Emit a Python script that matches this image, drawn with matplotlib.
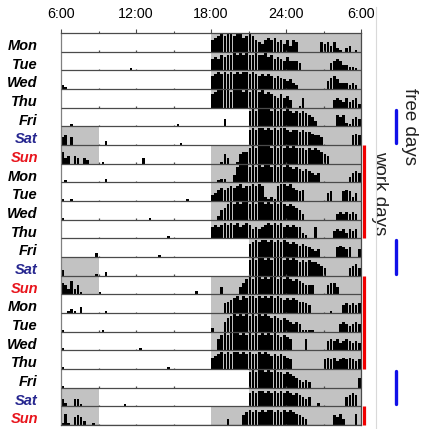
import numpy as np
import matplotlib
matplotlib.use("Agg")
import matplotlib.pyplot as plt
from matplotlib.transforms import blended_transform_factory
from matplotlib.lines import Line2D

plt.rcParams['font.family'] = ['Liberation Sans', 'DejaVu Sans']

days = ["Mon", "Tue", "Wed", "Thu", "Fri", "Sat", "Sun"] * 3
label_colors = {"Sat": "#26268f", "Sun": "#e8141c"}

# lights-off intervals per weekday, hours on a 6..30 axis
dark = {
    "Mon": [(18, 30)], "Tue": [(18, 30)], "Wed": [(18, 30)], "Thu": [(18, 30)],
    "Fri": [(21, 30)],
    "Sat": [(6, 9), (21, 30)],
    "Sun": [(6, 9), (18, 30)],
}

# activity counts in 15 min bins, digits 0-9 (relative height)
# first half: 6:00-18:00, second half: 18:00-6:00
day_act = [
    "00000000 00000000 00000000 00000000 00000000 00000000",
    "00000000 00000000 00000010 00000000 00000000 00000000",
    "21000000 00000000 00000000 00000000 00000000 00000000",
    "00000000 00000000 00000000 00000000 00000000 00000000",
    "00010000 00000000 00000000 00000000 00000100 00000000",
    "45040000 00000020 00000000 00000000 00000010 00000000",
    "63404303 20000100 00000000 00300000 00000000 00000000",
    "01000000 00000020 00000000 00000000 00000000 00000000",
    "10010000 00000000 00000000 00000000 00000000 10000000",
    "10000000 00000000 00000000 00001000 00000000 00000000",
    "00000000 00000000 00000000 00000000 00100000 00000000",
    "00000000 00020000 00000000 00000001 00000000 00000000",
    "30000000 00010020 00000000 00000000 00000000 00000000",
    "65373510 00001000 00000000 00000000 00000000 00020000",
    "00121030 00000010 00000000 00000000 00000000 00000000",
    "10000000 00000100 00000000 00000000 00000000 00000000",
    "10000000 00000000 00000000 01000000 00000000 00000000",
    "10000000 00000000 00000000 00000000 00100000 00000000",
    "10000000 00000000 00000000 00000000 00000000 00000000",
    "42004410 00000000 00001000 00000000 00000000 00000000",
    "16104542 00100000 00000000 00000000 00000000 00000000",
]
night_act = [
    "67 8989 989978 98654 6767564 6365 0000000 5453521 023010",
    "676878 898989889 889786 76575 5540 00000000 45653 32210",
    "789898 98989989 87878767 6545 320 00000000 4675 3332320",
    "789999 89998989 98978765 7564 00 1 5 000000000 454353452",
    "0000 4 0 000000 8989999898 98987878765 3 000000 656 21 454",
    "000000000000 89899898989 9878878776554 000000000 565",
    "000 153 001 566 8989999898 989898887878 7654 0000000000",
    "00 1220 04 8999898989 9898989878 7676545 000000000 3565",
    "346 767 878978 89898 2121 89989 7656 0000000 45 000 565 240",
    "002 56898989 9898998989 89878765 3 0000000000 34343430",
    "67678 7878 6787 5656 787878 676766 320 06 00000 45453545 0",
    "000000000000 7898998989 898787676 5434 00000 56545 00 4",
    "000000000000 89899898999 89898787877654 0000000 4564",
    "000 4 00000 46 8989989899 898987876555 0000 5664 0000000",
    "0000 567 8979899898 9898987878 76654 000000 1 000 454545",
    "2 000 578 9898989898 98787676 5454 1111 00000000 4543454",
    "00 6898999898 9898989898 7876 0000 6 000000 56564565454",
    "6789898998 9898898987 878765 0000000000 565645656545",
    "000000000000 8989989898 8787654 343 000000000000000 5",
    "000000000000 7878878787 8787676545 00 2 00000000 5676 0",
    "000003 0000 5787878788 7878787654 3 00000000 5463 000 60",
]

work_rows = [(6, 10), (13, 17), (20, 20)]
free_rows = [(4, 5), (11, 12), (18, 19)]

tick_pos = [6, 12, 18, 24, 30]
tick_labels = ["6:00", "12:00", "18:00", "24:00", "6:00"]
mark_hours = [9, 12, 15, 21, 24, 27]

n = len(days)
fig = plt.figure(figsize=(4.23, 4.29), dpi=100)
ax = fig.add_axes([61 / 423, 4 / 429, 300 / 423, 392 / 429])
ax.set_xlim(6, 30)
ax.set_ylim(0, n)

line_col = "#4a4a4a"
lbl_trans = blended_transform_factory(ax.transAxes, ax.transData)

for i, d in enumerate(days):
    y0 = n - 1 - i
    for a, b in dark[d]:
        ax.barh(y0, b - a, left=a, height=1, align='edge', color='#c2c2c2', lw=0, zorder=1)
    s = (day_act[i] + night_act[i]).replace(" ", "")
    assert len(s) == 96, (i, len(s))
    h = np.array([int(c) for c in s]) / 9 * 0.92
    x = 6 + 0.25 * np.arange(96)
    m = h > 0
    ax.bar(x[m], h[m], width=0.21, bottom=y0, align='edge', color='black', lw=0, zorder=2)
    ax.text(-0.077, y0 + 0.3, d, transform=lbl_trans, ha='right', va='center',
            fontsize=10.5, fontweight='bold', fontstyle='italic',
            color=label_colors.get(d, 'black'))

ax.hlines(np.arange(n), 6, 30, color=line_col, lw=0.9, zorder=3)
# small hour marks on each baseline
mx, my = np.meshgrid(mark_hours, np.arange(n))
ax.vlines(mx.ravel(), my.ravel(), my.ravel() + 0.07, color=line_col, lw=0.9, zorder=3)

ax.xaxis.tick_top()
ax.set_xticks(tick_pos, tick_labels)
ax.set_xticks([9, 15, 21, 27], minor=True)
ax.tick_params(axis='x', which='major', length=3, width=0.8, color=line_col, pad=5.5, labelsize=10.3)
ax.tick_params(axis='x', which='minor', length=1.5, width=0.8, color=line_col)
ax.set_yticks([])
for sp in ax.spines.values():
    sp.set_color(line_col)
    sp.set_linewidth(0.9)
ax.spines['left'].set_color('#808080')

for a, b in work_rows:
    ax.plot([30.24, 30.24], [n - 1 - b, n - a], color='#f00000', lw=2.3,
            solid_capstyle='butt', clip_on=False)
for a, b in free_rows:
    ax.plot([32.8, 32.8], [n - 1 - b + 0.1, n - a - 0.1], color='#1010e8', lw=2.4,
            solid_capstyle='round', clip_on=False)

ax.text(31.52, 12.43, "work days", rotation=270, ha='center', va='center',
        fontsize=13.5, color='#222222', clip_on=False)
ax.text(33.84, 15.97, "free days", rotation=270, ha='center', va='center',
        fontsize=13.5, color='#222222', clip_on=False)

fig.add_artist(Line2D([376 / 423] * 2, [0, 0.984], color='#d9d9d9', lw=0.8))

fig.savefig("out.png", dpi=100)
